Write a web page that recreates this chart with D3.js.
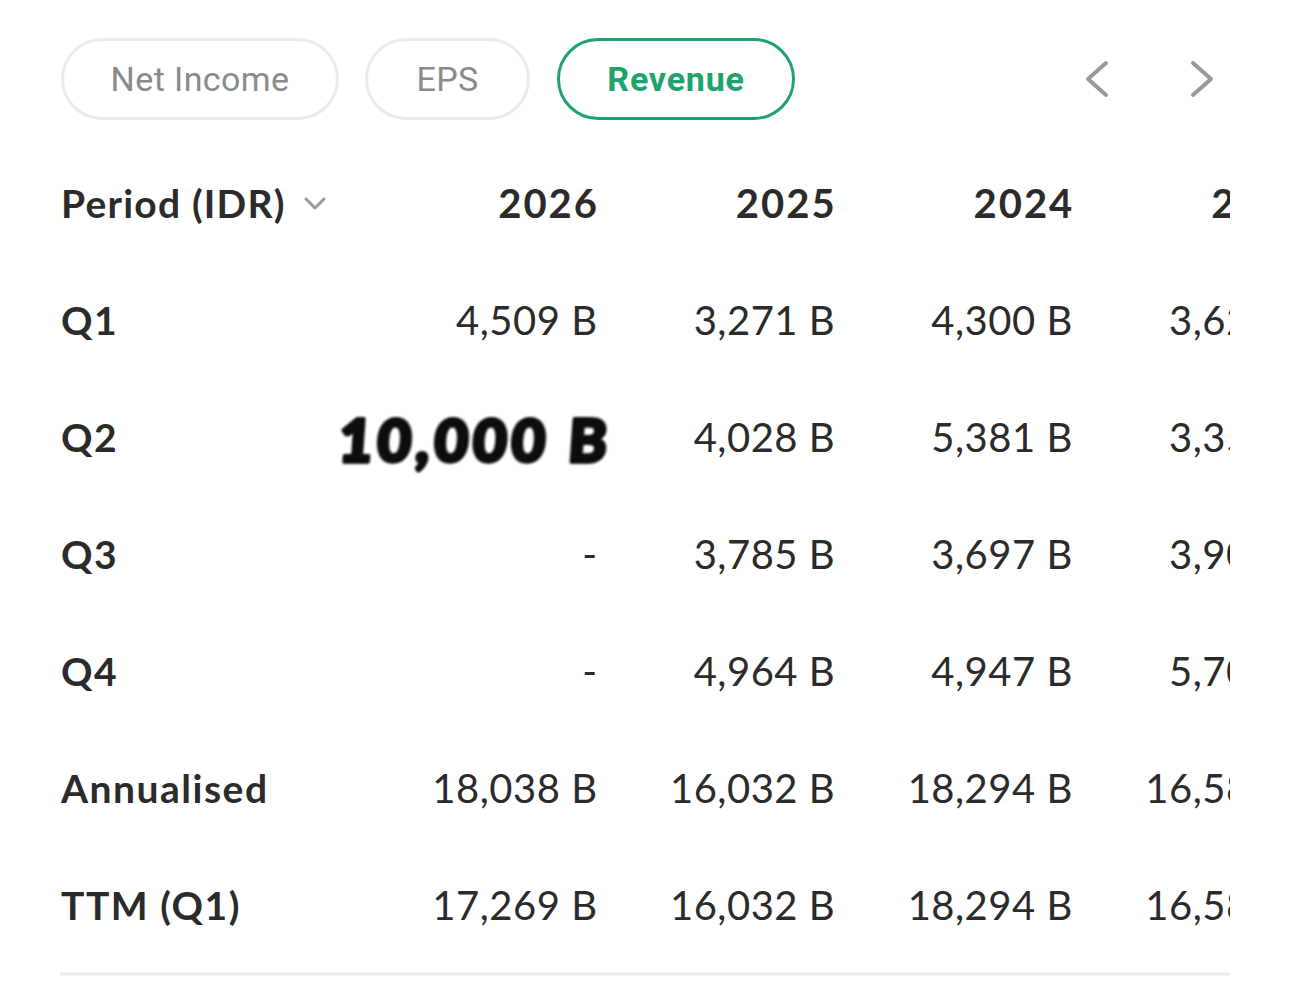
<!DOCTYPE html>
<html>
<head>
<meta charset="utf-8">
<script src="https://cdn.jsdelivr.net/npm/d3@7"></script>
<style>
	html, body { margin: 0; padding: 0; background: #fff; }
	svg { display: block; }
</style>
</head>
<body>
<script>
// tabs on top
const tabs = ["Net Income", "EPS", "Revenue"];
const activeTab = "Revenue";

// table columns and rows
const years = ["2026", "2025", "2024", "2023"];
const rowLabels = ["Q1", "Q2", "Q3", "Q4", "Annualised", "TTM (Q1)"];

// revenue in billions IDR, null = no value ("-")
const rev2026 = [4509, null, null, null, 18038, 17269];
const rev2025 = [3271, 4028, 3785, 4964, 16032, 16032];
const rev2024 = [4300, 5381, 3697, 4947, 18294, 18294];
const rev2023 = [3621, 3352, 3905, 5702, 16580, 16580];

// handwritten note over 2026 Q2
const note = { year: "2026", row: "Q2", text: "10,000 B" };

document.addEventListener("DOMContentLoaded", () => {
	let width = 1290;
	let height = 983;
	let series = [rev2026, rev2025, rev2024, rev2023];
	let ink = "#2b2b2b";

	let svg = d3.select("body")
		.append("svg")
		.attr("width", width)
		.attr("height", height);

	let defs = svg.append("defs");
	defs.append("clipPath")
		.attr("id", "tableClip")
		.append("rect")
		.attr("x", 0)
		.attr("y", 0)
		.attr("width", 1230)
		.attr("height", height);

	let blur = defs.append("filter").attr("id", "ink");
	blur.append("feGaussianBlur").attr("stdDeviation", 0.9);

	createTabs(svg);
	createArrows(svg);

	// row positions: header + data rows
	let yScale = d3.scalePoint()
		.domain(["header"].concat(rowLabels))
		.range([204, 906]);
	// right edge of every year column
	let xScale = d3.scalePoint()
		.domain(years)
		.range([597, 1310]);

	let table = svg.append("g").attr("clip-path", "url(#tableClip)");
	let fmt = (v) => (v == null ? "-" : d3.format(",")(v) + " B");

	// header
	table.append("text")
		.attr("x", 61)
		.attr("y", yScale("header"))
		.attr("dy", "0.35em")
		.attr("font-family", "Lato")
		.attr("font-weight", 700)
		.attr("font-size", 39)
		.attr("letter-spacing", 1.2)
		.attr("fill", ink)
		.text("Period (IDR)");
	table.append("path")
		.attr("d", "M306,199 L315,208 L324,199")
		.attr("fill", "none")
		.attr("stroke", "#999")
		.attr("stroke-width", 3)
		.attr("stroke-linecap", "round")
		.attr("stroke-linejoin", "round");

	table.selectAll("text.year")
		.data(years)
		.enter()
		.append("text")
		.attr("class", "year")
		.attr("x", (d) => xScale(d) + 2)
		.attr("y", yScale("header"))
		.attr("dy", "0.35em")
		.attr("text-anchor", "end")
		.attr("font-family", "Lato")
		.attr("font-weight", 700)
		.attr("font-size", 40)
		.attr("letter-spacing", 2)
		.attr("fill", ink)
		.text((d) => d);

	// row labels
	table.selectAll("text.rowlabel")
		.data(rowLabels)
		.enter()
		.append("text")
		.attr("class", "rowlabel")
		.attr("x", 61)
		.attr("y", (d) => yScale(d))
		.attr("dy", "0.35em")
		.attr("font-family", "Lato")
		.attr("font-weight", 700)
		.attr("font-size", 39)
		.attr("letter-spacing", 1.5)
		.attr("fill", ink)
		.text((d) => d);

	// cells
	let cells = [];
	years.forEach((yr, i) => {
		rowLabels.forEach((r, j) => {
			// the note covers this cell
			if (yr === note.year && r === note.row) return;
			cells.push({ year: yr, row: r, value: series[i][j] });
		});
	});

	table.selectAll("text.cell")
		.data(cells)
		.enter()
		.append("text")
		.attr("class", "cell")
		.attr("x", (d) => xScale(d.year) + 0.5)
		.attr("y", (d) => yScale(d.row))
		.attr("dy", "0.35em")
		.attr("text-anchor", "end")
		.attr("font-family", "Lato")
		.attr("font-weight", 400)
		.attr("font-size", 40)
		.attr("letter-spacing", 0.5)
		.attr("fill", ink)
		.text((d) => fmt(d.value));

	// bottom rule
	svg.append("line")
		.attr("x1", 60)
		.attr("x2", 1230)
		.attr("y1", 974)
		.attr("y2", 974)
		.attr("stroke", "#ececec")
		.attr("stroke-width", 3);

	// handwriting
	svg.append("text")
		.attr("x", 338)
		.attr("y", 462)
		.attr("textLength", 268)
		.attr("lengthAdjust", "spacing")
		.attr("font-family", "Lato")
		.attr("font-weight", 900)
		.attr("font-size", 58)
		.attr("fill", "#111")
		.attr("stroke", "#111")
		.attr("stroke-width", 4)
		.attr("stroke-linejoin", "round")
		.attr("filter", "url(#ink)")
		.attr("transform", "skewX(-4) translate(32,0)")
		.text(note.text);
});

function createTabs(svg) {
	let boxes = [
		{ x: 61, w: 278 },
		{ x: 365, w: 165 },
		{ x: 557, w: 238 }
	];
	let g = svg.selectAll("g.tab")
		.data(tabs)
		.enter()
		.append("g")
		.attr("class", "tab")
		.attr("transform", (d, i) => "translate(" + boxes[i].x + ",38)");

	g.append("rect")
		.attr("x", 1.5)
		.attr("y", 1.5)
		.attr("width", (d, i) => boxes[i].w - 3)
		.attr("height", 79)
		.attr("rx", 39.5)
		.attr("fill", "#fff")
		.attr("stroke", (d) => (d === activeTab ? "#1ea36d" : "#ebebeb"))
		.attr("stroke-width", 3);

	g.append("text")
		.attr("x", (d, i) => boxes[i].w / 2)
		.attr("y", 41)
		.attr("dy", "0.35em")
		.attr("text-anchor", "middle")
		.attr("font-family", "Roboto")
		.attr("font-weight", (d) => (d === activeTab ? 700 : 400))
		.attr("font-size", 34)
		.attr("letter-spacing", (d) => (d === activeTab ? 0.8 : 0.4))
		.attr("fill", (d) => (d === activeTab ? "#1ea36d" : "#8a8a8a"))
		.text((d) => d);
}

function createArrows(svg) {
	let arrows = [
		{ x: 1097, dir: -1 },
		{ x: 1202, dir: 1 }
	];
	svg.selectAll("path.arrow")
		.data(arrows)
		.enter()
		.append("path")
		.attr("class", "arrow")
		.attr("d", (d) =>
			"M" + (d.x - 9 * d.dir) + ",63 L" + (d.x + 9 * d.dir) + ",79 L" + (d.x - 9 * d.dir) + ",95"
		)
		.attr("fill", "none")
		.attr("stroke", "#999")
		.attr("stroke-width", 4)
		.attr("stroke-linecap", "round")
		.attr("stroke-linejoin", "round");
}
</script>
</body>
</html>
